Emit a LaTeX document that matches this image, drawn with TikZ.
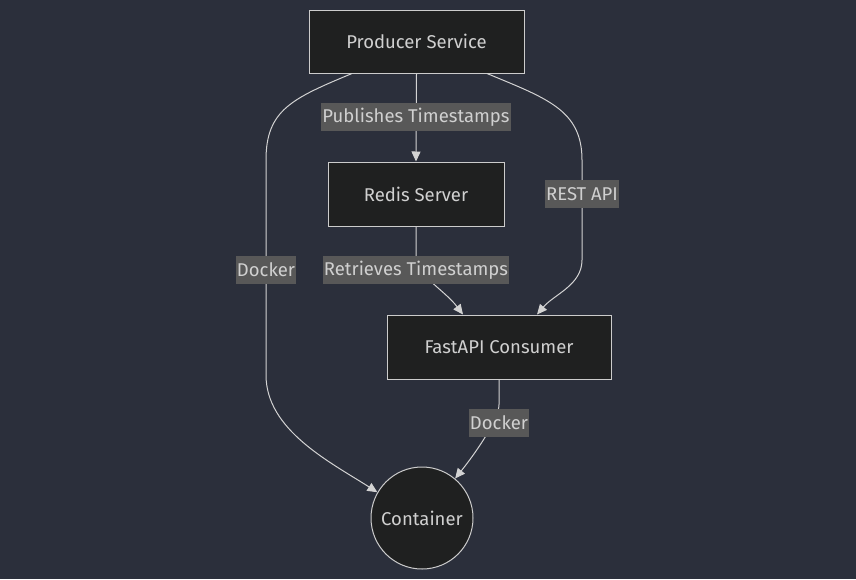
\documentclass[tikz,border=0pt]{standalone}
\usepackage{fontspec}
\setmainfont{Fira Sans}
\usetikzlibrary{arrows.meta,calc}
\definecolor{bg}{HTML}{2B2F3B}
\definecolor{nodefill}{HTML}{1F2020}
\definecolor{nodeborder}{HTML}{CCCCCC}
\definecolor{txt}{HTML}{D0D0D0}
\definecolor{lblfill}{HTML}{585858}
\definecolor{edge}{HTML}{D3D3D3}
\tikzset{
  txtfont/.style={font=\fontsize{18.5}{22}\selectfont},
  box/.style={draw=nodeborder, fill=nodefill, line width=1pt, text=txt, inner sep=0pt, txtfont},
  circ/.style={circle, draw=nodeborder, fill=nodefill, line width=1pt, text=txt, inner sep=0pt, minimum size=102pt, txtfont},
  lbl/.style={fill=lblfill, text=txt, inner sep=1pt, minimum height=28pt, txtfont},
  conn/.style={draw=edge, line width=1pt},
  arr/.style={conn, -{Triangle[length=10pt,width=9pt]}},
}
\begin{document}
\begin{tikzpicture}[x=1pt,y=-1pt]
\fill[bg] (0,0) rectangle (856,579);
\useasboundingbox (0,0) rectangle (856,579);
% nodes
\node[box, minimum width=215pt, minimum height=63pt] (prod) at (416.5,41.5) {Producer Service};
\node[box, minimum width=176pt, minimum height=64pt] (redis) at (416,194) {Redis Server};
\node[box, minimum width=224pt, minimum height=64pt] (fast) at (499,347) {FastAPI Consumer};
\node[circ] (cont) at (422,518) {Container};
% edges
\draw[arr] (prod.south) -- (redis.north);
\draw[arr] (redis.south) -- ++(0,29) .. controls ++(0,20) and ($(fast.north)+(-55,-25)$) .. ($(fast.north)+(-36,0)$);
\draw[arr] ($(prod.south)+(70.5,0)$) .. controls ++(60,25) and (582,110) .. (582,160) -- (582,260) .. controls (582,285) and ($(fast.north)+(55,-20)$) .. ($(fast.north)+(38,0)$);
\draw[arr] ($(prod.south)+(-64.5,0)$) .. controls ++(-60,25) and (266,110) .. (266,160) -- (266,375) .. controls (266,430) and (330,462) .. (cont.150);
\draw[arr] (fast.south) -- ++(0,25) .. controls ++(0,15) and ($(cont.50)+(20,-25)$) .. (cont.50);
% labels
\node[lbl, minimum width=186pt] (l1) at (416,117) {Publishes Timestamps};
\node[lbl, minimum width=186pt] (l2) at (416,270) {Retrieves Timestamps};
\node[lbl, minimum width=73pt] (l3) at (582,194) {REST API};
\node[lbl, minimum width=58pt] (l4) at (266,270) {Docker};
\node[lbl, minimum width=58pt] (l5) at (499,423) {Docker};
\end{tikzpicture}
\end{document}
